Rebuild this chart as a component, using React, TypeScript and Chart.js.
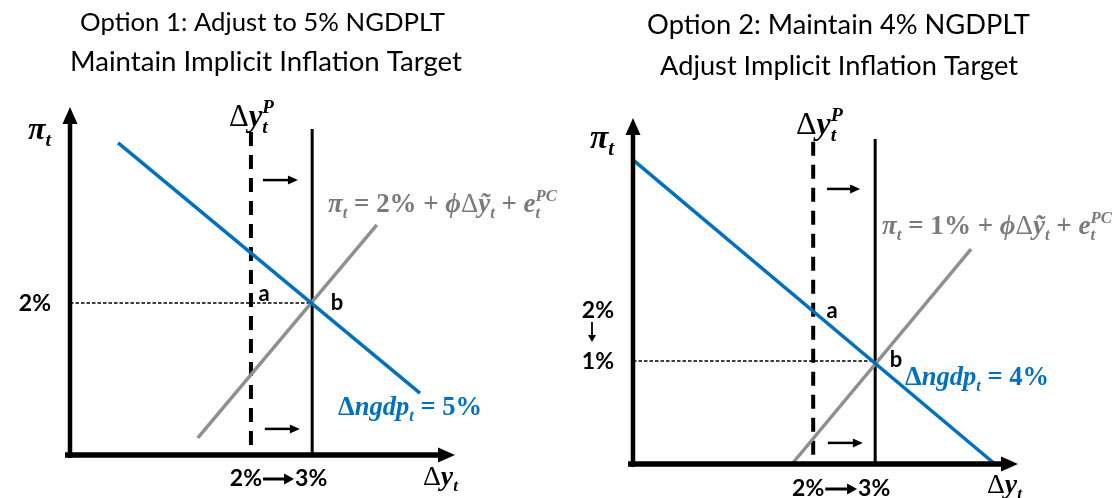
import React, { useEffect, useRef } from "react";
import { Chart, registerables } from "chart.js";
Chart.register(...registerables);

// ---------------- DATA (normalized axis units: 0 = origin, 100 = arrow tip) ----------------
// Option 1: Adjust to 5% NGDPLT
const L_TITLE = ["Option 1: Adjust to 5% NGDPLT", "Maintain Implicit Inflation Target"];
const L_AD_X = [12.5, 90.9];
const L_AD_Y = [89.7, 17.8];
const L_PC_X = [33.2, 79.7];
const L_PC_Y = [4.9, 66.1];
const L_POTENTIAL_X = [47.0, 62.9]; // old (dashed), new (solid)
const L_POTENTIAL_TOP = [92.8, 93.7];
const L_INFLATION = 43.7; // dotted guide level
const L_SHIFT_Y = [79.0, 7.5];
const L_SHIFT_X0 = [50.1, 50.6];
const L_SHIFT_X1 = [59.2, 59.7];
const L_Y_TICKS = ["2%"];
const L_Y_TICK_POS = [43.7];
const L_X_TICKS = ["2%", "3%"];
const L_PC_CONST = "2%";
const L_NGDP = "5%";

// Option 2: Maintain 4% NGDPLT
const R_TITLE = ["Option 2: Maintain 4% NGDPLT", "Adjust Implicit Inflation Target"];
const R_AD_X = [0, 94.0];
const R_AD_Y = [87.9, 0];
const R_PC_X = [41.3, 87.8];
const R_PC_Y = [0, 62.1];
const R_POTENTIAL_X = [46.8, 62.9];
const R_POTENTIAL_TOP = [93.1, 93.9];
const R_INFLATION = 29.8;
const R_SHIFT_Y = [79.5, 6.1];
const R_SHIFT_X0 = [50.4, 50.6];
const R_SHIFT_X1 = [59.0, 59.7];
const R_Y_TICKS = ["2%", "1%"];
const R_Y_TICK_POS = [44.5, 29.8];
const R_X_TICKS = ["2%", "3%"];
const R_PC_CONST = "1%";
const R_NGDP = "4%";

// ---------------- styling ----------------
const BLUE = "#0070C0";
const GRAY_LINE = "#8f8f8f";
const GRAY_TEXT = "#7a7a7a";
const MATH_FONT = '"Liberation Serif", "DejaVu Serif", serif';
const SANS = 'Lato, "Open Sans", "Liberation Sans", sans-serif';

type MI = { t?: string; st?: "bi" | "b" | "r"; pos?: "sub" | "sup"; sub?: string; sup?: string };

function mfont(st: string, size: number) {
  if (st === "r") return `normal ${size}px ${MATH_FONT}`;
  if (st === "b") return `bold ${size}px ${MATH_FONT}`;
  return `italic bold ${size}px ${MATH_FONT}`;
}

function mathRuns(ctx: CanvasRenderingContext2D, items: MI[], S: number) {
  const runs: { t: string; f: string; x: number; dy: number }[] = [];
  let x = 0;
  for (const it of items) {
    if (it.sub !== undefined && it.sup !== undefined) {
      const f = mfont("bi", S * 0.62);
      ctx.font = f;
      const w1 = ctx.measureText(it.sub).width;
      const w2 = ctx.measureText(it.sup).width;
      runs.push({ t: it.sub, f, x, dy: S * 0.22 });
      runs.push({ t: it.sup, f, x, dy: -S * 0.42 });
      x += Math.max(w1, w2);
    } else {
      const size = it.pos ? S * 0.62 : S;
      const f = mfont(it.st ?? "bi", size);
      ctx.font = f;
      const w = ctx.measureText(it.t!).width;
      runs.push({ t: it.t!, f, x, dy: it.pos === "sub" ? S * 0.22 : it.pos === "sup" ? -S * 0.42 : 0 });
      x += w;
    }
  }
  return { runs, width: x };
}

function drawMath(ctx: CanvasRenderingContext2D, items: MI[], left: number, base: number, w: number, color: string) {
  const probe = mathRuns(ctx, items, 100);
  const S = (100 * w) / probe.width;
  const { runs } = mathRuns(ctx, items, S);
  ctx.fillStyle = color;
  ctx.textAlign = "left";
  ctx.textBaseline = "alphabetic";
  for (const r of runs) {
    ctx.font = r.f;
    ctx.fillText(r.t, left + r.x, base + r.dy);
  }
}

function drawFit(ctx: CanvasRenderingContext2D, text: string, cx: number, base: number, w: number, weight: string) {
  ctx.font = `${weight} 100px ${SANS}`;
  const m = ctx.measureText(text).width;
  const size = (100 * w) / m;
  ctx.font = `${weight} ${size}px ${SANS}`;
  ctx.fillStyle = "#000";
  ctx.textAlign = "center";
  ctx.textBaseline = "alphabetic";
  ctx.fillText(text, cx, base);
}

function arrowRight(ctx: CanvasRenderingContext2D, x0: number, x1: number, y: number, lw: number, hl: number, hw: number) {
  ctx.strokeStyle = "#000";
  ctx.fillStyle = "#000";
  ctx.lineWidth = lw;
  ctx.beginPath();
  ctx.moveTo(x0, y);
  ctx.lineTo(x1 - hl + 1, y);
  ctx.stroke();
  ctx.beginPath();
  ctx.moveTo(x1, y);
  ctx.lineTo(x1 - hl, y - hw / 2);
  ctx.lineTo(x1 - hl, y + hw / 2);
  ctx.closePath();
  ctx.fill();
}

const PI_T: MI[] = [{ t: "π" }, { t: "t", pos: "sub" }];
const DY_P: MI[] = [{ t: "Δ", st: "r" }, { t: "y" }, { sub: "t", sup: "P" }];
const DY_T: MI[] = [{ t: "Δ", st: "r" }, { t: "y" }, { t: "t", pos: "sub" }];
const pcLabel = (c: string): MI[] => [
  { t: "π" }, { t: "t", pos: "sub" }, { t: " = ", st: "b" }, { t: c, st: "b" }, { t: " + ", st: "b" },
  { t: "ϕ" }, { t: "Δ", st: "r" }, { t: "ỹ" }, { t: "t", pos: "sub" }, { t: " + ", st: "b" },
  { t: "e" }, { sub: "t", sup: "PC" },
];
const adLabel = (g: string): MI[] => [
  { t: "Δ", st: "b" }, { t: "ngdp" }, { t: "t", pos: "sub" }, { t: " = " + g, st: "b" },
];

type Box = { left: number; base: number; w: number };
type PanelCfg = {
  width: number;
  left: number;
  padding: { left: number; right: number; top: number; bottom: number };
  title: string[];
  titlePos: { cx: number; base: number; w: number }[];
  adX: number[]; adY: number[]; pcX: number[]; pcY: number[];
  potX: number[]; potTop: number[]; infl: number;
  shiftY: number[]; shiftX0: number[]; shiftX1: number[];
  yTicks: string[]; yTickPos: number[]; yTickRight: number; downArrow: boolean;
  xTicks: string[]; xTickDy: number;
  pcConst: string; ngdp: string;
  piPos: Box; dyPPos: Box; pcPos: Box; adPos: Box; dyTPos: Box;
  aPos: [number, number]; bPos: [number, number];
};

const LEFT: PanelCfg = {
  width: 557, left: 0,
  padding: { left: 70, right: 102, top: 107, bottom: 43 },
  title: L_TITLE,
  titlePos: [{ cx: 262.5, base: 31, w: 365 }, { cx: 266, base: 71, w: 392 }],
  adX: L_AD_X, adY: L_AD_Y, pcX: L_PC_X, pcY: L_PC_Y,
  potX: L_POTENTIAL_X, potTop: L_POTENTIAL_TOP, infl: L_INFLATION,
  shiftY: L_SHIFT_Y, shiftX0: L_SHIFT_X0, shiftX1: L_SHIFT_X1,
  yTicks: L_Y_TICKS, yTickPos: L_Y_TICK_POS, yTickRight: 51, downArrow: false,
  xTicks: L_X_TICKS, xTickDy: 24,
  pcConst: L_PC_CONST, ngdp: L_NGDP,
  piPos: { left: 28, base: 139, w: 23 },
  dyPPos: { left: 229, base: 126, w: 45 },
  pcPos: { left: 328, base: 212, w: 229 },
  adPos: { left: 338, base: 415, w: 144 },
  dyTPos: { left: 423, base: 485, w: 35 },
  aPos: [264, 294], bPos: [337, 303],
};

const RIGHT: PanelCfg = {
  width: 558, left: 557,
  padding: { left: 76, right: 97, top: 118, bottom: 34 },
  title: R_TITLE,
  titlePos: [{ cx: 281.5, base: 34, w: 383 }, { cx: 282, base: 75, w: 358 }],
  adX: R_AD_X, adY: R_AD_Y, pcX: R_PC_X, pcY: R_PC_Y,
  potX: R_POTENTIAL_X, potTop: R_POTENTIAL_TOP, infl: R_INFLATION,
  shiftY: R_SHIFT_Y, shiftX0: R_SHIFT_X0, shiftX1: R_SHIFT_X1,
  yTicks: R_Y_TICKS, yTickPos: R_Y_TICK_POS, yTickRight: 57, downArrow: true,
  xTicks: R_X_TICKS, xTickDy: 25,
  pcConst: R_PC_CONST, ngdp: R_NGDP,
  piPos: { left: 33, base: 148, w: 24 },
  dyPPos: { left: 239, base: 134, w: 47 },
  pcPos: { left: 325, base: 234, w: 230 },
  adPos: { left: 348, base: 385, w: 144 },
  dyTPos: { left: 430, base: 493, w: 35 },
  aPos: [275, 311], bPos: [339, 360],
};

function overlay(cfg: PanelCfg) {
  return {
    id: "overlay",
    afterDatasetsDraw(chart: any) {
      const ctx: CanvasRenderingContext2D = chart.ctx;
      const xs = chart.scales.x, ys = chart.scales.y;
      const px = (v: number) => xs.getPixelForValue(v);
      const py = (v: number) => ys.getPixelForValue(v);
      ctx.save();
      const ox = px(0), oy = py(0), tx = px(100), ty = py(100);
      // y axis
      ctx.strokeStyle = "#000"; ctx.fillStyle = "#000";
      ctx.lineWidth = 4.5;
      ctx.beginPath(); ctx.moveTo(ox, oy + 3); ctx.lineTo(ox, ty + 14); ctx.stroke();
      ctx.beginPath(); ctx.moveTo(ox, ty); ctx.lineTo(ox - 7.5, ty + 17); ctx.lineTo(ox + 7.5, ty + 17); ctx.closePath(); ctx.fill();
      // x axis
      ctx.lineWidth = 5.5;
      ctx.beginPath(); ctx.moveTo(ox - 5, oy); ctx.lineTo(tx - 14, oy); ctx.stroke();
      ctx.beginPath(); ctx.moveTo(tx, oy); ctx.lineTo(tx - 17, oy - 7.5); ctx.lineTo(tx - 17, oy + 7.5); ctx.closePath(); ctx.fill();
      // shift arrows
      for (let i = 0; i < cfg.shiftY.length; i++) {
        arrowRight(ctx, px(cfg.shiftX0[i]), px(cfg.shiftX1[i]), py(cfg.shiftY[i]), 2.5, 10, 9);
      }
      // titles
      cfg.title.forEach((t, i) => drawFit(ctx, t, cfg.titlePos[i].cx, cfg.titlePos[i].base, cfg.titlePos[i].w, "normal"));
      // math labels
      drawMath(ctx, PI_T, cfg.piPos.left, cfg.piPos.base, cfg.piPos.w, "#000");
      drawMath(ctx, DY_P, cfg.dyPPos.left, cfg.dyPPos.base, cfg.dyPPos.w, "#000");
      drawMath(ctx, DY_T, cfg.dyTPos.left, cfg.dyTPos.base, cfg.dyTPos.w, "#000");
      drawMath(ctx, pcLabel(cfg.pcConst), cfg.pcPos.left, cfg.pcPos.base, cfg.pcPos.w, GRAY_TEXT);
      drawMath(ctx, adLabel(cfg.ngdp), cfg.adPos.left, cfg.adPos.base, cfg.adPos.w, BLUE);
      // sans labels
      ctx.fillStyle = "#000";
      ctx.font = `bold 23px ${SANS}`;
      ctx.textBaseline = "middle";
      ctx.textAlign = "right";
      cfg.yTicks.forEach((t, i) => ctx.fillText(t, cfg.yTickRight, py(cfg.yTickPos[i]) + 1));
      if (cfg.downArrow) {
        const ax = cfg.yTickRight - 22;
        const y0 = py(cfg.yTickPos[0]) + 12, y1 = py(cfg.yTickPos[1]) - 19;
        ctx.lineWidth = 1.8;
        ctx.beginPath(); ctx.moveTo(ax, y0); ctx.lineTo(ax, y1 - 5); ctx.stroke();
        ctx.beginPath(); ctx.moveTo(ax, y1); ctx.lineTo(ax - 4, y1 - 7); ctx.lineTo(ax + 4, y1 - 7); ctx.closePath(); ctx.fill();
      }
      ctx.font = `bold 22px ${SANS}`;
      ctx.textAlign = "center";
      ctx.fillText("a", cfg.aPos[0], cfg.aPos[1]);
      ctx.fillText("b", cfg.bPos[0], cfg.bPos[1]);
      // x tick labels: old -> new potential
      ctx.font = `bold 23px ${SANS}`;
      const ly = oy + cfg.xTickDy;
      const c0 = px(cfg.potX[0]) - 5, c1 = px(cfg.potX[1]) - 1;
      ctx.fillText(cfg.xTicks[0], c0, ly);
      ctx.fillText(cfg.xTicks[1], c1, ly);
      const w0 = ctx.measureText(cfg.xTicks[0]).width, w1 = ctx.measureText(cfg.xTicks[1]).width;
      arrowRight(ctx, c0 + w0 / 2 + 1, c1 - w1 / 2 - 1, ly, 3, 10, 11);
      ctx.restore();
    },
  };
}

function Panel({ cfg }: { cfg: PanelCfg }) {
  const ref = useRef<HTMLCanvasElement>(null);
  useEffect(() => {
    const line = (pts: { x: number; y: number }[], color: string, w: number, dash: number[] = []) => ({
      data: pts, showLine: true, borderColor: color, borderWidth: w, borderDash: dash,
      pointRadius: 0, pointHoverRadius: 0, clip: false as any, borderCapStyle: "butt" as const, tension: 0,
    });
    const chart = new Chart(ref.current!, {
      type: "scatter",
      data: {
        datasets: [
          line(cfg.adX.map((x, i) => ({ x, y: cfg.adY[i] })), BLUE, 3.5),
          line(cfg.pcX.map((x, i) => ({ x, y: cfg.pcY[i] })), GRAY_LINE, 3.5),
          line([{ x: cfg.potX[1], y: cfg.potTop[1] }, { x: cfg.potX[1], y: 0 }], "#000", 3),
          line([{ x: cfg.potX[0], y: cfg.potTop[0] }, { x: cfg.potX[0], y: 0 }], "#000", 4, [14, 9]),
          line([{ x: 0, y: cfg.infl }, { x: cfg.potX[1], y: cfg.infl }], "#000", 1.5, [3.5, 2]),
        ],
      },
      options: {
        animation: false,
        responsive: false,
        events: [],
        layout: { padding: cfg.padding },
        plugins: { legend: { display: false }, tooltip: { enabled: false }, title: { display: false } },
        scales: {
          x: { type: "linear", min: 0, max: 100, display: false },
          y: { type: "linear", min: 0, max: 100, display: false },
        },
      },
      plugins: [overlay(cfg)],
    });
    return () => chart.destroy();
  }, [cfg]);
  return (
    <canvas
      ref={ref}
      width={cfg.width}
      height={498}
      style={{ position: "absolute", left: cfg.left, top: 0, width: cfg.width, height: 498 }}
    />
  );
}

export default function App() {
  return (
    <div style={{ position: "fixed", left: 0, top: 0, width: 1115, height: 498, background: "#fff", overflow: "hidden" }}>
      <Panel cfg={LEFT} />
      <Panel cfg={RIGHT} />
    </div>
  );
}
